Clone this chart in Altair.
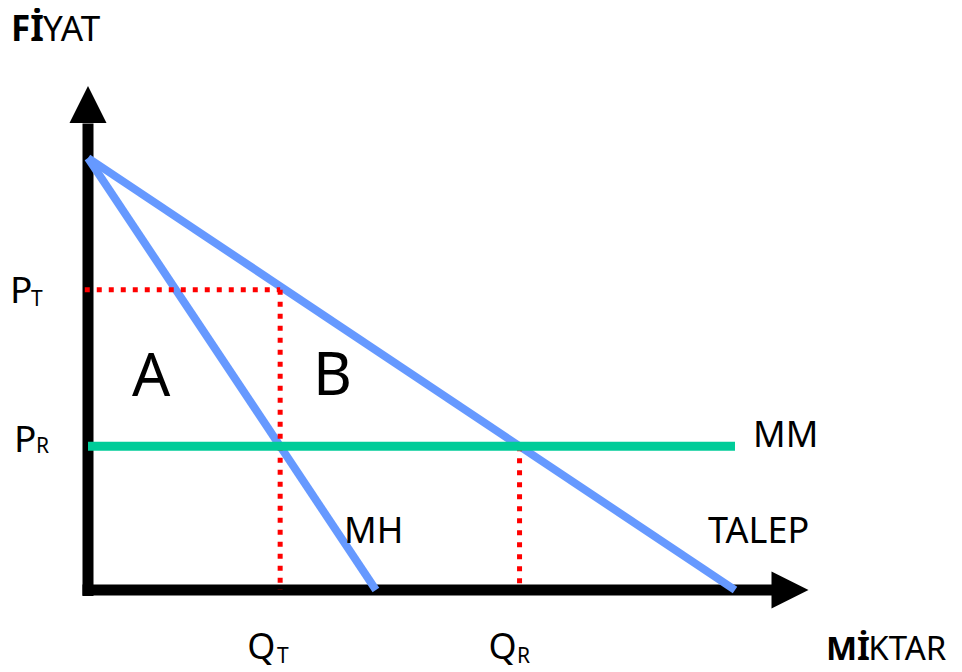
import altair as alt
import pandas as pd

# ---- economic quantities (Q = quantity, P = price) ----
talep_q = [0, 100]        # demand (TALEP)
talep_p = [100, 0]
mh_q = [0, 44.5]          # marginal revenue (MH)
mh_p = [100, 0]
mm_level = 33.3           # marginal cost (MM), horizontal
mm_q = [0, 100]
P_T, P_R = 69.5, 33.3
Q_T, Q_R = 29.7, 66.7

# axis extents (arrows)
y_axis_top, x_axis_right = 108.0, 106.0
y_arrow_tip, x_arrow_tip = 112.4, 108.5

# ---- text labels ----
label_text = ["YAT", "P", "T", "P", "R", "A", "B", "MM", "MH", "TALEP", "Q", "T", "Q", "R", "KTAR"]
label_q = [-6.95, -12.06, -8.81, -11.44, -8.04, 6.80, 34.78, 102.78, 39.57, 95.83, 24.6, 29.2, 61.9, 66.3, 120.6]
label_p = [127.08, 66.44, 65.74, 31.94, 31.71, 44.91, 45.14, 33.10, 10.88, 10.88, -15.97, -16.90, -15.97, -16.90, -16.20]
label_size = [35, 37, 21, 37, 21, 60, 60, 36, 36, 36, 36, 21, 36, 21, 33]

bold_text = ["Fİ", "Mİ"]
bold_q = [-11.90, 114.06]
bold_p = [127.08, -16.20]
bold_size = [35, 33]

W, H = 946, 664
xs = alt.Scale(domain=[-12.365, 133.85], nice=False, zero=False)
ys = alt.Scale(domain=[-18.98, 134.72], nice=False, zero=False)


def seg_chart(df, color, width, dash=None):
    kw = dict(color=color, strokeWidth=width, strokeCap="butt")
    if dash:
        kw["strokeDash"] = dash
    return alt.Chart(df).mark_rule(**kw).encode(
        x=alt.X("q:Q", scale=xs, axis=None),
        y=alt.Y("p:Q", scale=ys, axis=None),
        x2="q2:Q",
        y2="p2:Q",
    )


axes_df = pd.DataFrame({
    "q": [0, -0.85], "p": [-1.4, 0],
    "q2": [0, x_axis_right], "p2": [y_axis_top, 0],
})
blue_df = pd.DataFrame({
    "q": [talep_q[0], mh_q[0]], "p": [talep_p[0], mh_p[0]],
    "q2": [talep_q[1], mh_q[1]], "p2": [talep_p[1], mh_p[1]],
})
red_df = pd.DataFrame({
    "q": [-0.5, Q_T, Q_R], "p": [P_T, P_T, P_R],
    "q2": [Q_T, Q_T, Q_R], "p2": [P_T, 0, 0],
})
green_df = pd.DataFrame({"q": [mm_q[0]], "p": [mm_level], "q2": [mm_q[1]], "p2": [mm_level]})

axes = seg_chart(axes_df, "#000000", 11)
blue = seg_chart(blue_df, "#6699ff", 8)
red = seg_chart(red_df, "#ff0000", 5, [5, 7])
green = seg_chart(green_df, "#00cc99", 9)

up_arrow = alt.Chart(pd.DataFrame({"q": [0], "p": [y_arrow_tip]})).mark_point(
    shape="M0,-1L1,1L-1,1Z", size=1369, filled=True, color="#000000", opacity=1
).encode(x=alt.X("q:Q", scale=xs, axis=None), y=alt.Y("p:Q", scale=ys, axis=None))

right_arrow = alt.Chart(pd.DataFrame({"q": [x_arrow_tip], "p": [0]})).mark_point(
    shape="M1,0L-1,-1L-1,1Z", size=1369, filled=True, color="#000000", opacity=1
).encode(x=alt.X("q:Q", scale=xs, axis=None), y=alt.Y("p:Q", scale=ys, axis=None))

labels_df = pd.DataFrame({"q": label_q, "p": label_p, "t": label_text, "s": label_size})
bold_df = pd.DataFrame({"q": bold_q, "p": bold_p, "t": bold_text, "s": bold_size})

labels = alt.Chart(labels_df).mark_text(
    align="left", baseline="alphabetic", font="Noto Sans", color="#000000"
).encode(
    x=alt.X("q:Q", scale=xs, axis=None),
    y=alt.Y("p:Q", scale=ys, axis=None),
    text="t:N",
    size=alt.Size("s:Q", scale=None, legend=None),
)
bold_labels = alt.Chart(bold_df).mark_text(
    align="left", baseline="alphabetic", font="Noto Sans", fontWeight="bold", color="#000000"
).encode(
    x=alt.X("q:Q", scale=xs, axis=None),
    y=alt.Y("p:Q", scale=ys, axis=None),
    text="t:N",
    size=alt.Size("s:Q", scale=None, legend=None),
)

chart = alt.layer(
    axes, blue, red, green, up_arrow, right_arrow, labels, bold_labels
).properties(
    width=W, height=H, padding=0, autosize=alt.AutoSizeParams(type="none")
).configure_view(stroke=None, fill="#ffffff")

chart.save("out.html", embed_options={"renderer": "svg", "actions": False})
